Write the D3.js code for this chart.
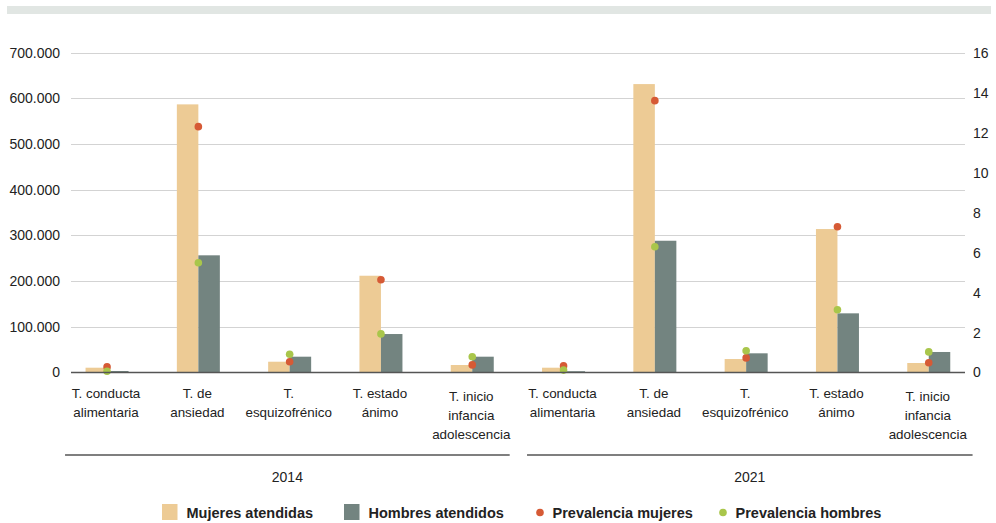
<!DOCTYPE html>
<html><head><meta charset="utf-8">
<script src="https://cdn.jsdelivr.net/npm/d3@7"></script>
<style>
html,body{margin:0;padding:0;background:#fff;}
text{font-family:"Liberation Sans",Arial,sans-serif;fill:#222;}
</style></head>
<body>
<svg id="chart" width="996" height="523"></svg>
<script>
const years = ["2014", "2021"];
const categories = ["T. conducta alimentaria", "T. de ansiedad", "T. esquizofrénico", "T. estado ánimo", "T. inicio infancia adolescencia"];
const categoryLines = [["T. conducta", "alimentaria"], ["T. de", "ansiedad"], ["T.", "esquizofrénico"], ["T. estado", "ánimo"], ["T. inicio", "infancia", "adolescencia"]];
const mujeresAtendidas = [10500, 586900, 23600, 211800, 16400, 10500, 631300, 29500, 314000, 20800];
const hombresAtendidos = [3300, 256500, 34600, 84200, 34600, 2800, 288400, 42000, 129500, 44900];
const prevalenciaMujeres = [0.28, 12.3, 0.54, 4.64, 0.38, 0.33, 13.6, 0.73, 7.29, 0.49];
const prevalenciaHombres = [0.06, 5.49, 0.91, 1.93, 0.79, 0.12, 6.29, 1.09, 3.14, 1.03];
const leftTicks = [0, 100000, 200000, 300000, 400000, 500000, 600000, 700000];
const rightTicks = [0, 2, 4, 6, 8, 10, 12, 14, 16];
const legendLabels = ["Mujeres atendidas", "Hombres atendidos", "Prevalencia mujeres", "Prevalencia hombres"];

const colors = {m: "#EDCB95", h: "#738480", pm: "#D65A35", ph: "#A9C64B"};

const svg = d3.select("#chart");
const locale = d3.formatLocale({decimal: ",", thousands: ".", grouping: [3], currency: ["", "€"]});
const fmt = locale.format(",");

// top band
svg.append("rect").attr("x", 7).attr("y", 6).attr("width", 984).attr("height", 8).attr("fill", "#E1E6E3");

const rows = [];
years.forEach((yr, yi) => categories.forEach((c, ci) => rows.push({key: yr + "|" + c, year: yr, yi, ci})));
rows.forEach((r, i) => {
  r.m = mujeresAtendidas[i]; r.h = hombresAtendidos[i];
  r.pm = prevalenciaMujeres[i]; r.ph = prevalenciaHombres[i];
});

const gx0 = 71, gx1 = 965;
const x = d3.scaleBand().domain(rows.map(r => r.key)).range([61.4, 974.4]).paddingInner(0.529).paddingOuter(0.2645);
const x1 = d3.scaleBand().domain(["m", "h"]).range([0, x.bandwidth()]);
const yL = d3.scaleLinear().domain([0, 700000]).range([372.5, 52.7]);
const yR = d3.scaleLinear().domain([0, 16]).range([372.5, 52.7]);

// gridlines
svg.append("g").selectAll("line").data(leftTicks.filter(d => d > 0)).join("line")
  .attr("x1", gx0).attr("x2", gx1)
  .attr("y1", d => Math.round(yL(d)) + 0.5).attr("y2", d => Math.round(yL(d)) + 0.5)
  .attr("stroke", "#D3D3D3").attr("stroke-width", 1);

// left axis
const axL = svg.append("g").attr("transform", "translate(60,0)")
  .call(d3.axisLeft(yL).tickValues(leftTicks).tickFormat(fmt).tickSize(0).tickPadding(0));
axL.select(".domain").remove();
axL.selectAll("text").attr("font-size", 14).attr("fill", "#222").attr("font-family", "Liberation Sans, Arial, sans-serif");

// right axis
const axR = svg.append("g").attr("transform", "translate(973,0)")
  .call(d3.axisRight(yR).tickValues(rightTicks).tickSize(0).tickPadding(0));
axR.select(".domain").remove();
axR.selectAll("text").attr("font-size", 14).attr("fill", "#222").attr("font-family", "Liberation Sans, Arial, sans-serif");

// bars
const g = svg.append("g");
const grp = g.selectAll("g").data(rows).join("g").attr("transform", d => `translate(${x(d.key)},0)`);
grp.append("rect").attr("x", x1("m")).attr("width", x1.bandwidth())
  .attr("y", d => yL(d.m)).attr("height", d => yL(0) - yL(d.m)).attr("fill", colors.m);
grp.append("rect").attr("x", x1("h")).attr("width", x1.bandwidth())
  .attr("y", d => yL(d.h)).attr("height", d => yL(0) - yL(d.h)).attr("fill", colors.h);

// baseline
svg.append("line").attr("x1", gx0).attr("x2", gx1).attr("y1", yL(0)).attr("y2", yL(0))
  .attr("stroke", "#555").attr("stroke-width", 1.6);

// dots
grp.append("circle").attr("cx", x.bandwidth() / 2).attr("cy", d => yR(d.pm)).attr("r", 3.8).attr("fill", colors.pm);
grp.append("circle").attr("cx", x.bandwidth() / 2).attr("cy", d => yR(d.ph)).attr("r", 3.8).attr("fill", colors.ph);

// category labels
const lab = svg.append("g").selectAll("text").data(rows).join("text")
  .attr("text-anchor", "middle").attr("font-size", 13.4).attr("fill", "#222")
  .attr("transform", d => `translate(${x(d.key) + x.bandwidth() / 2 - 1},${categoryLines[d.ci].length > 2 ? 400.5 : 397.5})`);
lab.selectAll("tspan").data(d => categoryLines[d.ci]).join("tspan")
  .attr("x", 0).attr("dy", (d, i) => i === 0 ? 0 : 19).text(d => d);

// year group lines and labels
const spanPads = [[0.46, 0.41], [0.40, 0.48]];
const yearSpans = years.map((yr, yi) => {
  const keys = rows.filter(r => r.year === yr).map(r => r.key);
  const c0 = x(keys[0]) + x.bandwidth() / 2, c1 = x(keys[keys.length - 1]) + x.bandwidth() / 2;
  return {yr, a: c0 - x.step() * spanPads[yi][0], b: c1 + x.step() * spanPads[yi][1]};
});
svg.append("g").selectAll("line").data(yearSpans).join("line")
  .attr("x1", d => d.a).attr("x2", d => d.b).attr("y1", 455).attr("y2", 455)
  .attr("stroke", "#555").attr("stroke-width", 1.6);
svg.append("g").selectAll("text").data(yearSpans).join("text")
  .attr("x", d => (d.a + d.b) / 2).attr("y", 482).attr("text-anchor", "middle")
  .attr("font-size", 14).text(d => d.yr);

// legend
const legend = [
  {label: legendLabels[0], type: "rect", color: colors.m, x: 162},
  {label: legendLabels[1], type: "rect", color: colors.h, x: 344},
  {label: legendLabels[2], type: "dot", color: colors.pm, x: 536},
  {label: legendLabels[3], type: "dot", color: colors.ph, x: 719}
];
const lg = svg.append("g").selectAll("g").data(legend).join("g").attr("transform", d => `translate(${d.x},0)`);
lg.filter(d => d.type === "rect").append("rect").attr("x", 0).attr("y", 504).attr("width", 15.5).attr("height", 16).attr("fill", d => d.color);
lg.filter(d => d.type === "dot").append("circle").attr("cx", 4).attr("cy", 512.5).attr("r", 3.8).attr("fill", d => d.color);
lg.append("text").attr("x", d => d.type === "rect" ? 24.5 : 16.5).attr("y", 518)
  .attr("font-size", 14.5).attr("font-weight", "bold").text(d => d.label);
</script>
</body></html>
